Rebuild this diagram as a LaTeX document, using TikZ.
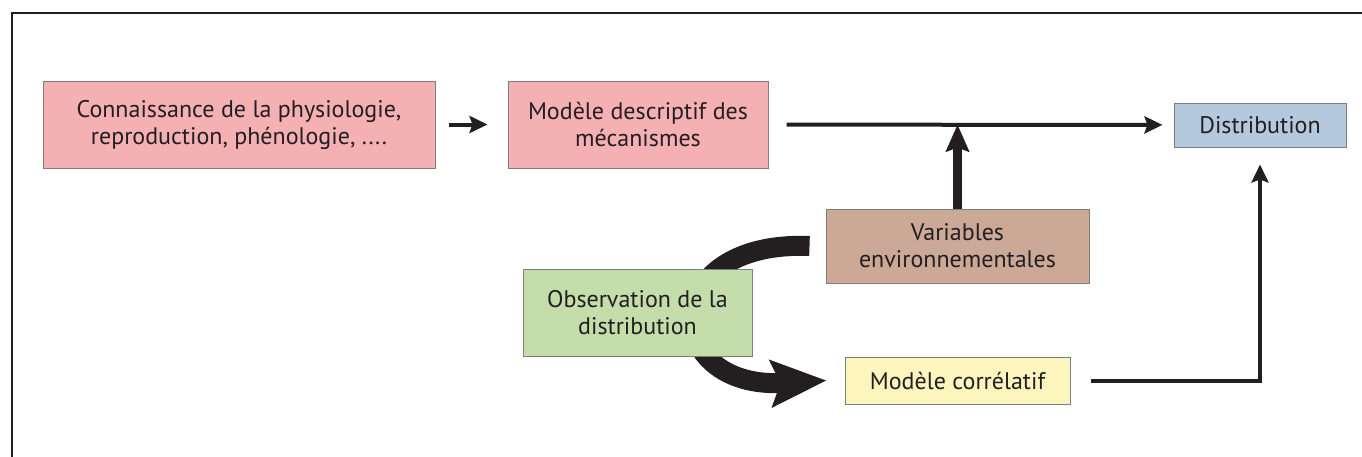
\documentclass[tikz,border=0pt]{standalone}
\usepackage{fontspec}
\setmainfont{PT Sans}
\usetikzlibrary{arrows.meta,backgrounds}
\definecolor{pinkbox}{RGB}{245,176,180}
\definecolor{bluebox}{RGB}{180,200,222}
\definecolor{brownbox}{RGB}{204,168,150}
\definecolor{greenbox}{RGB}{196,221,170}
\definecolor{yellowbox}{RGB}{252,246,190}
\definecolor{edgegray}{RGB}{125,125,125}
\definecolor{ink}{RGB}{35,31,32}
\tikzset{
  box/.style={draw=edgegray, line width=1pt, inner sep=0pt, align=center,
    text=ink, font=\fontsize{24}{27}\selectfont},
  thinarrow/.style={draw=ink, line width=4pt, -{Stealth[length=18pt,width=17pt,inset=3pt]}},
  thickarrow/.style={draw=ink, line width=9pt, -{Stealth[length=27pt,width=23pt,inset=4pt]}},
}
\begin{document}
\begin{tikzpicture}[x=1pt,y=-1pt]
\useasboundingbox (0,0) rectangle (1362,456);
\node[box, fill=pinkbox, minimum width=392pt, minimum height=87pt] (know) at (239,124.5)
  {Connaissance de la physiologie,\\reproduction, phénologie, ....};
\node[box, fill=pinkbox, minimum width=260pt, minimum height=87pt] (mech) at (638,124.5)
  {Modèle descriptif des\\mécanismes};
\node[box, fill=bluebox, minimum width=172pt, minimum height=44pt] (dist) at (1260,125)
  {Distribution};
\node[box, fill=brownbox, minimum width=263pt, minimum height=74pt] (envv) at (957.5,246)
  {Variables\\environnementales};
\node[box, fill=greenbox, minimum width=229pt, minimum height=87pt] (obs) at (637.5,312.5)
  {Observation de la\\distribution};
\node[box, fill=yellowbox, minimum width=225pt, minimum height=47pt] (corr) at (957.5,380.5)
  {Modèle corrélatif};
\coordinate (join) at (957.5,124.5);
\coordinate (cstart) at ([xshift=-16pt]envv.west);
\coordinate (cend) at ([xshift=-18pt]corr.west);
\begin{scope}[on background layer]
  \fill[white] (0,0) rectangle (1362,456);
  \draw[ink, line width=1.5pt] (12,470) -- (12,13) -- (1375,13);
  \draw[draw=ink, fill=none, line width=20pt, -{Stealth[length=55pt,width=46pt,inset=9pt]}]
    (cstart) .. controls (655,240) and (660,390) .. (cend);
\end{scope}
\draw[thinarrow, shorten <=13pt, shorten >=20pt] (know) -- (mech);
\draw[thinarrow, shorten <=18pt, shorten >=11pt] (mech) -- (dist);
\draw[thickarrow] (envv.north) -- (join);
\draw[thinarrow, shorten <=20pt, shorten >=17pt] (corr.east) -| (dist.south);
\end{tikzpicture}
\end{document}
